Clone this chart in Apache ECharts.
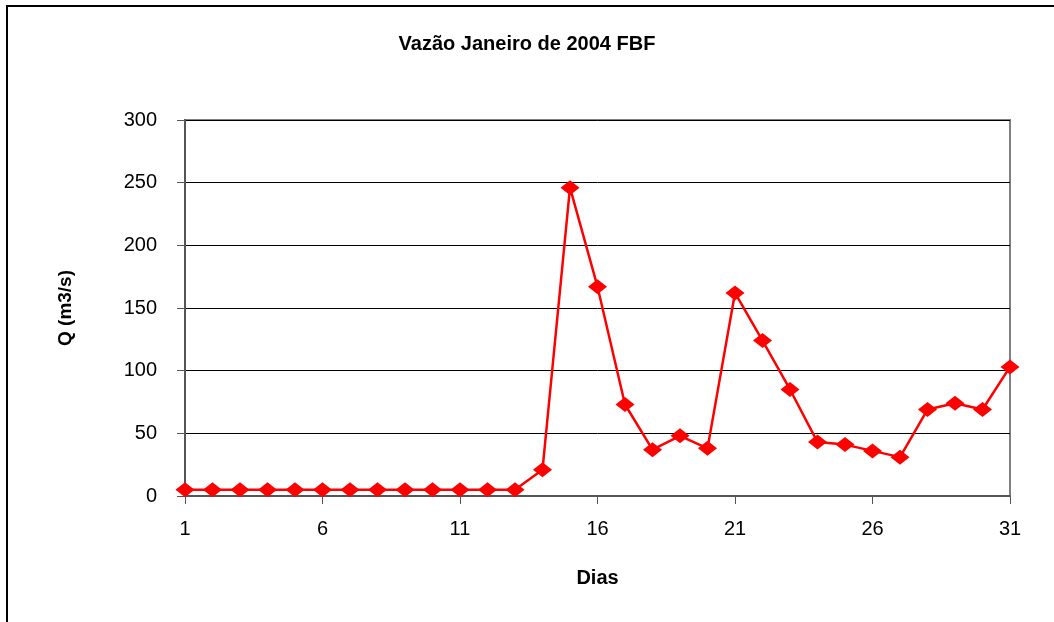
<!DOCTYPE html>
<html>
<head>
<meta charset="utf-8">
<title>Vazão Janeiro de 2004 FBF</title>
<script src="https://cdn.jsdelivr.net/npm/echarts@6/dist/echarts.min.js"></script>
<style>
    html, body { margin: 0; padding: 0; background: #fff; }
    #frame {
        position: absolute; left: 6px; top: 5px; width: 1048px; height: 617px;
        border-left: 2px solid #000; border-top: 2px solid #000;
    }
    #chartLine { position: absolute; left: 0; top: 0; width: 1054px; height: 622px; }
</style>
</head>
<body>
<div id="frame"></div>
<div id="chartLine"></div>
<script>
    // dias do mes
    var dias = ['1', '2', '3', '4', '5', '6', '7', '8', '9', '10', '11', '12', '13', '14', '15', '16',
        '17', '18', '19', '20', '21', '22', '23', '24', '25', '26', '27', '28', '29', '30', '31'];
    // vazao (m3/s)
    var vazao = [5, 5, 5, 5, 5, 5, 5, 5, 5, 5, 5, 5, 5, 21, 246, 167,
        73, 37, 48, 38, 162, 124, 85, 43, 41, 36, 31, 69, 74, 69, 103];
    var yMin = 0, yMax = 300, yStep = 50;

    var chartLine = echarts.init(document.getElementById('chartLine'));
    chartLine.setOption({
        animation: false,
        title: {
            text: 'Vazão Janeiro de 2004 FBF',
            left: 'center',
            top: 29,
            textStyle: { fontFamily: 'Liberation Sans, Arial', fontSize: 20, fontWeight: 'bold', color: '#000' }
        },
        grid: {
            left: 185,
            top: 120,
            right: 44,
            bottom: 126,
            show: true,
            borderColor: '#808080',
            borderWidth: 2
        },
        xAxis: {
            type: 'category',
            data: dias,
            boundaryGap: false,
            name: 'Dias',
            nameLocation: 'middle',
            nameGap: 72,
            nameTextStyle: { fontFamily: 'Liberation Sans, Arial', fontSize: 20, fontWeight: 'bold', color: '#000' },
            axisLine: { lineStyle: { color: '#555', width: 2 } },
            axisTick: { interval: 4, length: 8, lineStyle: { color: '#555' } },
            axisLabel: { interval: 4, margin: 23, fontFamily: 'Liberation Sans, Arial', fontSize: 20, color: '#000' },
            splitLine: { show: false }
        },
        yAxis: {
            type: 'value',
            min: yMin,
            max: yMax,
            interval: yStep,
            name: 'Q (m3/s)',
            nameLocation: 'middle',
            nameGap: 110,
            nameTextStyle: { fontFamily: 'Liberation Sans, Arial', fontSize: 19, fontWeight: 'bold', color: '#000' },
            axisLine: { show: true, lineStyle: { color: '#555', width: 2 } },
            axisTick: { show: true, length: 8, lineStyle: { color: '#555' } },
            axisLabel: { margin: 28, fontFamily: 'Liberation Sans, Arial', fontSize: 20, color: '#000' },
            splitLine: { lineStyle: { color: '#000', width: 1 } }
        },
        series: [{
            name: 'Vazão',
            type: 'line',
            data: vazao,
            symbol: 'diamond',
            symbolSize: [19, 15],
            itemStyle: { color: '#ff0000' },
            lineStyle: { color: '#ff0000', width: 2.5 }
        }]
    });
</script>
</body>
</html>
